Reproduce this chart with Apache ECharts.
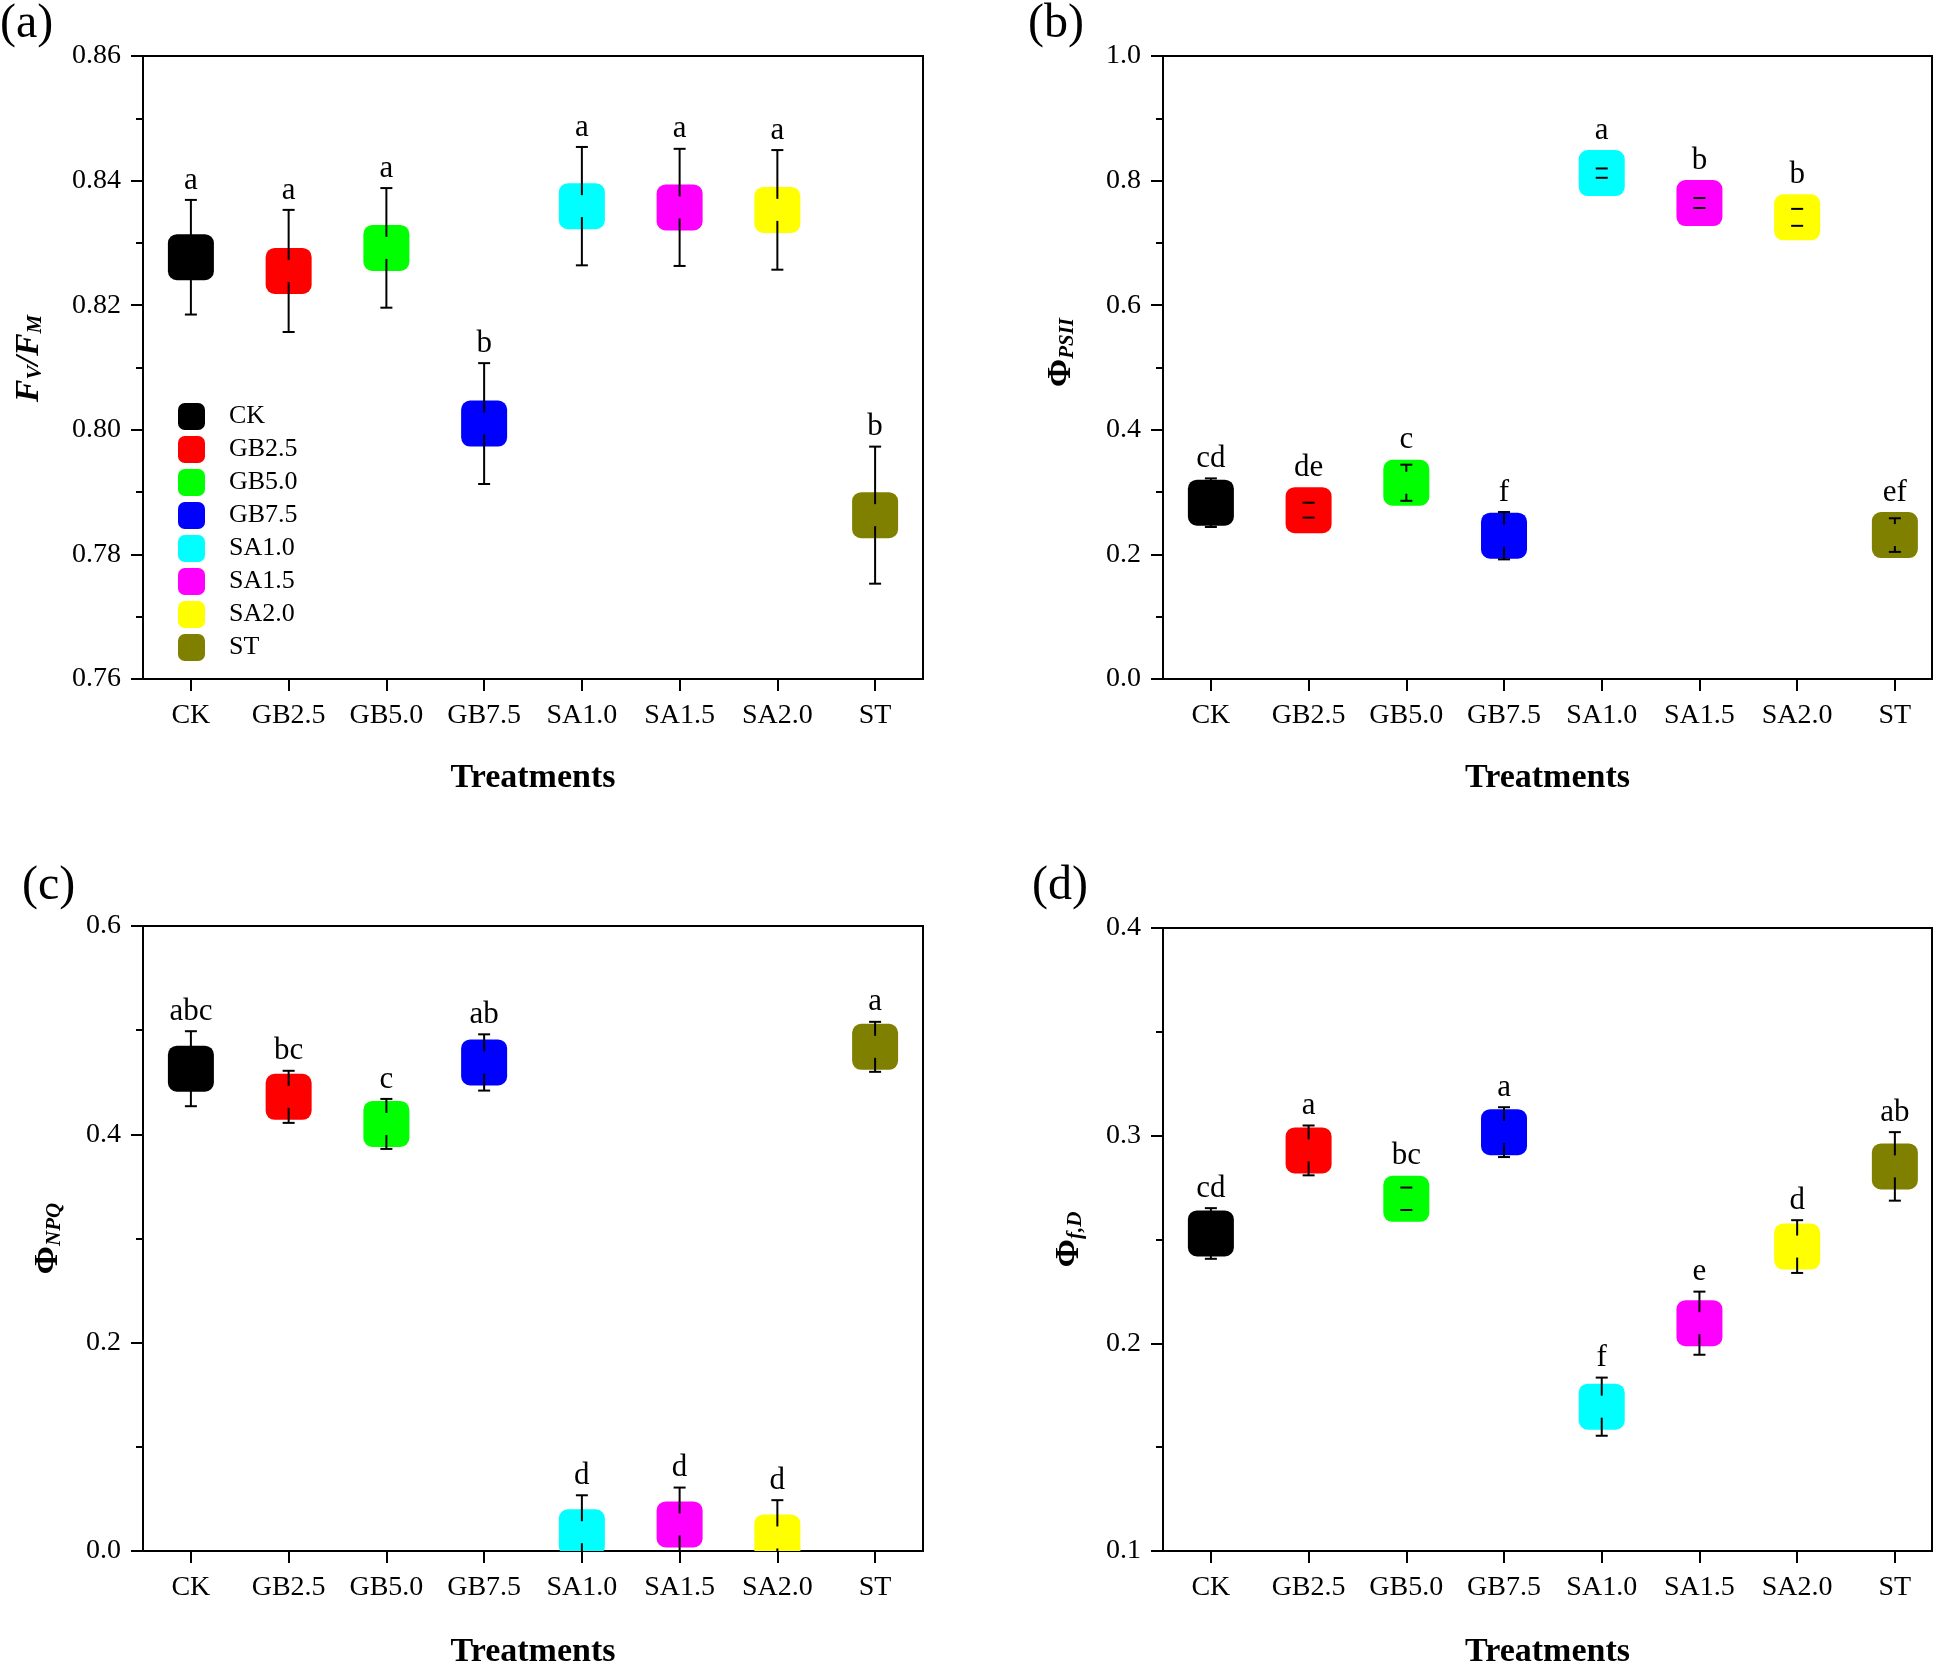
<!DOCTYPE html>
<html><head><meta charset="utf-8">
<script src="https://cdn.jsdelivr.net/npm/echarts@6/dist/echarts.min.js"></script>
<style>html,body{margin:0;padding:0;background:#fff}#c{width:1946px;height:1663px}</style>
</head><body><div id="c"></div>
<script>
// ---------- data ----------
const categories = ['CK', 'GB2.5', 'GB5.0', 'GB7.5', 'SA1.0', 'SA1.5', 'SA2.0', 'ST'];
const colors = ['#000000', '#FF0000', '#00FF00', '#0000FF', '#00FFFF', '#FF00FF', '#FFFF00', '#808000'];

// (a) Fv/Fm
const fvfmMean = [0.8277, 0.8255, 0.8292, 0.8010, 0.8359, 0.8357, 0.8353, 0.7863];
const fvfmErr = [0.0092, 0.0098, 0.0096, 0.0097, 0.0095, 0.0094, 0.0096, 0.0110];
const fvfmLetters = ['a', 'a', 'a', 'b', 'a', 'a', 'a', 'b'];
// (b) PhiPSII
const psiiMean = [0.283, 0.271, 0.315, 0.230, 0.812, 0.764, 0.741, 0.231];
const psiiErr = [0.039, 0.012, 0.029, 0.038, 0.0075, 0.008, 0.0136, 0.027];
const psiiLetters = ['cd', 'de', 'c', 'f', 'a', 'b', 'b', 'ef'];
// (c) PhiNPQ
const npqMean = [0.463, 0.436, 0.410, 0.469, 0.018, 0.0255, 0.013, 0.484];
const npqErr = [0.036, 0.025, 0.024, 0.027, 0.0355, 0.0354, 0.0358, 0.024];
const npqLetters = ['abc', 'bc', 'c', 'ab', 'd', 'd', 'd', 'a'];
// (d) Phi f,D
const fdMean = [0.2529, 0.2929, 0.2696, 0.3017, 0.1695, 0.2097, 0.2466, 0.2852];
const fdErr = [0.0122, 0.0120, 0.0054, 0.0120, 0.0140, 0.0152, 0.0127, 0.0165];
const fdLetters = ['cd', 'a', 'bc', 'a', 'f', 'e', 'd', 'ab'];

// axis ranges / ticks
const yRanges = [
  { min: 0.76, max: 0.86, interval: 0.02, dec: 2 },
  { min: 0.0, max: 1.0, interval: 0.2, dec: 1 },
  { min: 0.0, max: 0.6, interval: 0.2, dec: 1 },
  { min: 0.1, max: 0.4, interval: 0.1, dec: 1 }
];
const xRanges = [
  { min: -0.49, max: 7.49 },
  { min: -0.49, max: 7.38 },
  { min: -0.49, max: 7.49 },
  { min: -0.49, max: 7.38 }
];
const catIndex = categories.map((c, i) => i);

// ---------- styling ----------
const FONT = '"Liberation Serif", "Times New Roman", serif';
const grids = [
  { left: 143, top: 56, width: 780, height: 623 },
  { left: 1163, top: 56, width: 769, height: 623 },
  { left: 143, top: 926, width: 780, height: 625 },
  { left: 1163, top: 928, width: 769, height: 623 }
];
const mainSt = { fontSize: 34, fontWeight: 'bold', fontFamily: FONT, color: '#000', lineHeight: 34, verticalAlign: 'top' };
const subSt = { fontSize: 21, fontWeight: 'bold', fontStyle: 'italic', fontFamily: FONT, color: '#000', lineHeight: 21, padding: [17, 0, 0, 0], verticalAlign: 'bottom' };
const yNames = [
  { name: '{fi|F}{s|V}{fi|/F}{s|M}', gap: 97, shift: 18 },
  { name: '{p|Φ}{s|PSII}', gap: 85, shift: 30 },
  { name: '{p|Φ}{s|NPQ}', gap: 78, shift: 0 },
  { name: '{p|Φ}{s|f,D}', gap: 77, shift: 0 }
];
const richStyles = {
  fi: Object.assign({}, mainSt, { fontStyle: 'italic' }),
  p: mainSt,
  s: subSt
};
const xNameGaps = [82, 82, 84, 84];

const panelData = [
  { mean: fvfmMean, err: fvfmErr, letters: fvfmLetters },
  { mean: psiiMean, err: psiiErr, letters: psiiLetters },
  { mean: npqMean, err: npqErr, letters: npqLetters },
  { mean: fdMean, err: fdErr, letters: fdLetters }
];

function makeRender(letters) {
  return function (params, api) {
    const i = api.value(0), m = api.value(1), e = api.value(2);
    const c = api.coord([i, m]);
    const hi = api.coord([i, m + e]);
    const lo = api.coord([i, m - e]);
    const half = 23, gap = 11, cap = 6;
    const ls = { stroke: '#000', lineWidth: 2 };
    const ch = [];
    ch.push({ type: 'rect', shape: { x: c[0] - half, y: c[1] - half, width: 2 * half, height: 2 * half, r: 9 }, style: { fill: api.visual('color') } });
    if (hi[1] < c[1] - gap) ch.push({ type: 'line', shape: { x1: c[0], y1: hi[1], x2: c[0], y2: c[1] - gap }, style: ls });
    if (lo[1] > c[1] + gap) ch.push({ type: 'line', shape: { x1: c[0], y1: lo[1], x2: c[0], y2: c[1] + gap }, style: ls });
    ch.push({ type: 'line', shape: { x1: c[0] - cap, y1: hi[1], x2: c[0] + cap, y2: hi[1] }, style: ls });
    ch.push({ type: 'line', shape: { x1: c[0] - cap, y1: lo[1], x2: c[0] + cap, y2: lo[1] }, style: ls });
    const top = Math.min(hi[1], c[1] - half);
    ch.push({ type: 'text', x: c[0], y: top - 4, style: { text: letters[i], font: '31px ' + FONT, fill: '#000', textAlign: 'center', textVerticalAlign: 'bottom' } });
    return { type: 'group', children: ch };
  };
}

const option = {
  animation: false,
  backgroundColor: '#fff',
  grid: grids.map(g => Object.assign({ show: true, borderColor: '#000', borderWidth: 2, backgroundColor: 'transparent', containLabel: false, outerBoundsMode: 'none' }, g)),
  legend: {
    data: categories,
    orient: 'vertical',
    left: 173, top: 398,
    itemWidth: 27, itemHeight: 27, itemGap: 6,
    icon: 'roundRect',
    textStyle: { fontSize: 26, fontFamily: FONT, color: '#000', padding: [0, 0, 0, 19] }
  },
  xAxis: grids.map((g, k) => ({
    type: 'value', gridIndex: k, min: xRanges[k].min, max: xRanges[k].max,
    axisLine: { show: true, onZero: false, lineStyle: { color: '#000', width: 2 } },
    axisTick: { show: true, customValues: catIndex, length: 12, lineStyle: { color: '#000', width: 2 } },
    axisLabel: { customValues: catIndex, fontSize: 28, fontFamily: FONT, color: '#000', margin: 23, formatter: v => categories[Math.round(v)] },
    splitLine: { show: false },
    name: 'Treatments', nameLocation: 'middle', nameGap: xNameGaps[k],
    nameTextStyle: { fontSize: 34, fontWeight: 'bold', fontFamily: FONT, color: '#000' }
  })),
  yAxis: yRanges.map((r, k) => ({
    type: 'value', gridIndex: k, min: r.min, max: r.max, interval: r.interval,
    axisLine: { show: true, onZero: false, lineStyle: { color: '#000', width: 2 } },
    axisTick: { show: true, length: 12, lineStyle: { color: '#000', width: 2 } },
    minorTick: { show: true, splitNumber: 2, length: 7, lineStyle: { color: '#000', width: 2 } },
    splitLine: { show: false },
    axisLabel: { fontSize: 28, fontFamily: FONT, color: '#000', margin: 22, formatter: v => v.toFixed(r.dec) },
    name: yNames[k].name, nameLocation: 'middle', nameGap: yNames[k].gap, nameRotate: 90,
    nameTextStyle: { rich: richStyles, padding: [0, 0, 0, yNames[k].shift] }
  })),
  graphic: [
    { type: 'text', left: 0, top: 0, style: { text: '(a)', font: '48px ' + FONT, fill: '#000' } },
    { type: 'text', left: 1028, top: 0, style: { text: '(b)', font: '48px ' + FONT, fill: '#000' } },
    { type: 'text', left: 22, top: 862, style: { text: '(c)', font: '48px ' + FONT, fill: '#000' } },
    { type: 'text', left: 1032, top: 862, style: { text: '(d)', font: '48px ' + FONT, fill: '#000' } }
  ],
  series: []
};

panelData.forEach((p, k) => {
  categories.forEach((cat, i) => {
    option.series.push({
      type: 'custom', name: cat, xAxisIndex: k, yAxisIndex: k,
      color: colors[i], itemStyle: { color: colors[i] },
      clip: true,
      renderItem: makeRender(p.letters),
      encode: { x: 0, y: 1 },
      data: [[i, p.mean[i], p.err[i]]],
      z: 3
    });
  });
});

const chart = echarts.init(document.getElementById('c'), null, { renderer: 'canvas' });
chart.setOption(option);
</script>
</body></html>
